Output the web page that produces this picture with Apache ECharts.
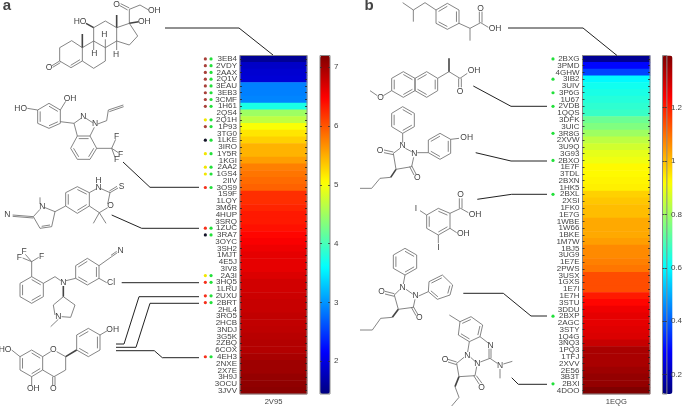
<!DOCTYPE html>
<html><head><meta charset="utf-8">
<style>html,body{margin:0;padding:0;background:#fff}#c{width:685px;height:410px}</style>
<script src="https://cdn.jsdelivr.net/npm/echarts@6/dist/echarts.min.js"></script>
</head><body><div id="c"></div>
<script>
const idsA=['3EB4','2VDY','2AAX','2Q1V','3EAU','3EB3','3CMF','1H61','2QS4','2Q1H','1P93','3TG0','1LKE','3IRO','1Y5R','1KGI','2AA2','1GS4','2IIV','3OS9','1S9F','1LQY','3M6R','4HUP','3SRQ','1ZUC','3RA7','3OYC','3SH2','1MJT','4E5J','3IV8','2A3I','3HQ5','1LRU','2UXU','2BRT','2HL4','3RO5','2HCB','3NDJ','3G5K','2ZBQ','6COX','4EH3','2NXE','2X7E','3H9J','3OCU','3JVV'];
const valuesA=[1.56,1.84,1.90,1.93,2.88,2.88,2.91,3.74,4.49,4.67,5.01,5.18,5.30,5.47,5.47,5.59,5.76,5.82,5.88,5.93,6.22,6.22,6.28,6.34,6.34,6.39,6.45,6.51,6.57,6.62,6.62,6.62,6.68,6.74,6.74,6.77,6.80,6.80,6.83,6.83,6.85,6.88,6.91,6.91,6.97,7.03,7.03,7.08,7.11,7.14];
const idsB=['2BXG','3PMD','4GHW','3IB2','3UIV','3P6G','1U67','2VDB','1QQS','3DFK','3UIC','3R8G','2XVW','3U9Q','3G93','2BXO','1E7F','3TDL','2BXN','1HK5','2BXL','2XSI','1FK0','1E7G','1WBE','1W66','1BKE','1M7W','1BJ5','3UG9','1E7E','2PWS','3USX','1GXS','1E7I','1E7H','3STU','3DDU','2BXP','2AGC','3STY','1Q4G','3NQ3','1PQ3','1TFJ','2XVV','2E56','3B3T','2BXI','4DOO'];
const valuesB=[0.153,0.293,0.369,0.596,0.622,0.634,0.647,0.660,0.672,0.736,0.761,0.799,0.837,0.862,0.888,0.900,0.926,0.926,0.932,0.938,0.976,0.989,1.002,1.002,1.027,1.027,1.027,1.040,1.065,1.065,1.078,1.090,1.141,1.141,1.141,1.204,1.229,1.255,1.267,1.267,1.274,1.280,1.305,1.343,1.343,1.343,1.356,1.369,1.369,1.394];
const columnA=['2V95'], columnB=['1EQG'];
const ticksA=[2,3,4,5,6,7], ticksB=[0.2,0.4,0.6,0.8,1,1.2];
const rangeA=[1.44,7.2], rangeB=[0.128,1.394];
const brownA=['3EB4','2VDY','2AAX','2Q1V','3EAU','3EB3','3CMF','1H61','1P93'];
const yellowA=['2Q1H','1Y5R','2AA2','1GS4','2A3I'];
const blackA=['1LKE','3RA7'];
const redA=['3OS9','1ZUC','3HQ5','2UXU','2BRT','4EH3'];
const greenA=['3EB4','2VDY','2AAX','2Q1V','3EAU','3EB3','3CMF','1H61','2Q1H','1P93','1LKE','1Y5R','2AA2','1GS4','3OS9','1ZUC','3RA7','2A3I','3HQ5','2UXU','2BRT','4EH3'];
const greenB=['2BXG','3IB2','3P6G','2VDB','3R8G','2BXO','2BXL','2BXP','2BXI'];
const jet=['#000080','#0000ff','#0080ff','#00ffff','#80ff80','#ffff00','#ff8000','#ff0000','#800000'];

const TOP=55.5,H=338.5,TXT='#444',FRAME='#8a8a8a',FONT='"Liberation Sans",Arial,sans-serif';
const grids=[],xAxes=[],yAxes=[],series=[];
function ax(o){return Object.assign({axisLine:{show:false},axisTick:{show:false},axisLabel:{show:false},splitLine:{show:false}},o);}
function panel(ids,vals,col,left,width,dotLeft,dotW,dotSets,cbLeft,ticks,range){
  // heatmap
  let g=grids.length;
  grids.push({left,top:TOP,width,height:H,show:true,borderColor:FRAME,borderWidth:1,backgroundColor:'transparent',z:3});
  xAxes.push(ax({type:'category',gridIndex:g,data:col,position:'bottom',
    axisLabel:{show:true,color:TXT,fontSize:7.6,fontFamily:FONT,margin:4}}));
  let cat=(position,label)=>ax({type:'category',gridIndex:g,data:ids,inverse:true,position,z:5,
    axisTick:{show:true,inside:true,length:2,alignWithLabel:true,lineStyle:{color:'#222',width:.8}},
    axisLabel:{show:label,interval:0,color:TXT,fontSize:8,fontFamily:FONT,margin:3}});
  let y0=yAxes.length;
  yAxes.push(cat('left',true),cat('right',false));
  series.push({type:'heatmap',xAxisIndex:xAxes.length-1,yAxisIndex:y0,progressive:0,
    data:ids.map((id,i)=>[0,i,vals[i]]),itemStyle:{borderWidth:0},silent:true});
  let hm=series.length-1;
  // annotation dots
  g=grids.length;
  grids.push({left:dotLeft,top:TOP,width:dotW,height:H});
  xAxes.push(ax({type:'category',gridIndex:g,data:dotSets.cols,show:false}));
  yAxes.push(ax({type:'category',gridIndex:g,data:ids,inverse:true,show:false}));
  dotSets.sets.forEach(s=>series.push({type:'scatter',xAxisIndex:xAxes.length-1,yAxisIndex:yAxes.length-1,
    symbolSize:3.2,silent:true,itemStyle:{color:s.color,opacity:1},data:s.list.map(id=>[s.col,id])}));
  // colour bar frame and ticks
  g=grids.length;
  grids.push({left:cbLeft,top:TOP,width:10,height:H,show:true,borderColor:FRAME,borderWidth:1,backgroundColor:'transparent',z:10});
  xAxes.push(ax({type:'category',gridIndex:g,data:[''],show:false}));
  let val=(position,label)=>ax({type:'value',gridIndex:g,min:range[0],max:range[1],position,z:12,
    axisTick:{show:true,inside:true,length:2,customValues:ticks,lineStyle:{color:'#333',width:.8}},
    axisLabel:{show:label,customValues:ticks,showMinLabel:true,showMaxLabel:true,color:TXT,fontSize:8,fontFamily:FONT,margin:4}});
  yAxes.push(val('left',false),val('right',true));
  return {type:'continuous',seriesIndex:hm,min:range[0],max:range[1],dimension:2,calculable:false,
    left:cbLeft,top:TOP,itemWidth:10,itemHeight:H,padding:0,text:null,showLabel:false,z:4,
    textStyle:{color:'transparent',fontSize:1},inRange:{color:jet},hoverLink:false};
}
const vmA=panel(idsA,valuesA,columnA,240,67,202.5,11.4,{cols:['m','n'],sets:[
  {list:brownA,col:'m',color:'#a8413a'},{list:yellowA,col:'m',color:'#f2e600'},{list:blackA,col:'m',color:'#15152a'},
  {list:redA,col:'m',color:'#f5301c'},{list:greenA,col:'n',color:'#22e03a'}]},320,ticksA,rangeA);
const vmB=panel(idsB,valuesB,columnB,582.5,67.5,550,6,{cols:['n'],sets:[{list:greenB,col:'n',color:'#22e03a'}]},662.5,ticksB,rangeB);

// --- structure drawings (illustration only, not data) ---
const gfx=[];
const BOND={stroke:'#666',lineWidth:.8,fill:null};
function line(pts,style){gfx.push({type:'polyline',silent:true,shape:{points:pts},style:Object.assign({},BOND,style||{}),z:20});}
function T(x,y,s,font){gfx.push({type:'text',silent:true,x,y,style:{text:s,fill:'#444',font:font||('8.5px '+FONT),textAlign:'center',textVerticalAlign:'middle'},z:21});}
function mol(ox,oy,def){
  const m=p=>[ox+p[0]/3,oy+p[1]/3];
  (def.bonds||[]).forEach(b=>line(b.map(m)));
  (def.bold||[]).forEach(b=>line(b.map(m),{lineWidth:1.6,stroke:'#444'}));
  (def.rings||[]).forEach(r=>{
    const pp=r.map(m);line(pp.concat([pp[0]]));
    const cx=pp.reduce((a,p)=>a+p[0],0)/pp.length,cy=pp.reduce((a,p)=>a+p[1],0)/pp.length;
    pp.forEach((p,i)=>{if(i%2==0){const q=pp[(i+1)%pp.length],f=.78;
      line([[cx+(p[0]-cx)*f,cy+(p[1]-cy)*f],[cx+(q[0]-cx)*f,cy+(q[1]-cy)*f]]);}});
  });
  (def.labels||[]).forEach(l=>{const p=m(l);T(p[0],p[1],l[2]);});
}
mol(0,0,{ // steroid
 bonds:[[[179,143],[215,122],[247,143],[247,183],[213,203],[179,183],[179,143]],[[212,196],[240,179]],
  [[247,183],[281,205],[316,183],[316,143],[281,123],[247,143]],[[281,123],[281,83],[316,63],[350,83],[350,123],[316,143]],
  [[350,83],[388,70],[413,108],[388,135],[350,123]],[[179,183],[156,197]],[[181,188],[158,202]],
  [[388,70],[388,28],[420,15],[446,30]],[[383,30],[358,16]],[[388,24],[362,11]],[[316,143],[316,118]],[[281,123],[281,150]],[[350,123],[350,150]]],
 bold:[[[247,143],[247,102]],[[350,83],[350,45]],[[281,83],[258,70]],[[388,70],[416,65]]],
 labels:[[147,202,'O'],[350,14,'O'],[463,33,'OH'],[240,64,'HO'],[433,65,'OH'],[313,103,'H'],[283,162,'H'],[348,163,'H']]});
mol(0,0,{ // indazole
 rings:[[[147,310],[181,330],[181,370],[147,385],[113,370],[113,330]],[[232,408],[270,408],[290,445],[270,478],[232,478],[212,445]]],
 bonds:[[[181,330],[197,304]],[[113,330],[82,325]],[[181,365],[222,370]],[[222,370],[243,355]],[[258,355],[278,368]],[[283,382],[270,408]],[[232,408],[222,370]],
  [[293,372],[320,362],[325,330],[370,315]],[[328,335],[371,320]],[[290,445],[335,445]],[[335,445],[347,418]],[[335,445],[355,458]],[[335,445],[345,472]]],
 labels:[[62,325,'HO'],[210,296,'OH'],[250,349,'N'],[285,372,'N'],[350,410,'F'],[362,463,'F'],[350,480,'F']]});
mol(0,0,{ // thiooxazine pyrrole
 rings:[[[232,560],[268,578],[268,618],[232,640],[197,618],[197,578]]],
 bonds:[[[268,578],[290,566]],[[303,566],[330,578],[323,612]],[[330,578],[354,564]],[[328,573],[351,559]],[[268,618],[298,638],[323,623]],[[298,638],[280,670]],[[298,638],[318,670]],
  [[197,618],[165,635],[133,622]],[[165,635],[155,680],[120,685],[100,650],[120,628]],[[120,612],[120,592]],[[150,675],[125,679]],[[100,650],[38,645]],[[100,654],[38,649]]],
 labels:[[296,563,'N'],[296,541,'H'],[365,560,'S'],[332,618,'O'],[127,620,'N'],[22,643,'N']]});
mol(0,200,{ // benzyl pyrrolidine
 rings:[[[95,230],[130,250],[130,290],[95,310],[60,290],[60,250]],[[227,197],[262,175],[297,197],[297,235],[262,255],[227,235]]],
 bonds:[[[95,230],[95,185]],[[95,185],[76,163]],[[95,185],[116,172]],[[95,185],[68,174]],[[130,250],[165,230],[182,242]],[[198,242],[227,235]],
  [[297,197],[335,170],[352,158]],[[333,166],[350,154]],[[297,235],[320,248]],[[190,290],[225,315],[212,352],[185,350]],[[165,345],[160,315],[190,290]],[[175,358],[152,380]]],
 bold:[[[190,258],[190,290]]],
 labels:[[72,155,'F'],[125,170,'F'],[58,172,'F'],[190,247,'N'],[362,152,'N'],[333,249,'Cl'],[175,350,'N']]});
mol(0,200,{ // flavanone
 rings:[[[95,450],[128,470],[128,510],[95,530],[60,510],[60,470]],[[230,405],[265,385],[300,405],[300,450],[265,470],[230,450]]],
 bonds:[[[60,470],[35,450]],[[95,530],[95,555]],[[128,470],[152,455]],[[170,455],[197,470],[197,510],[162,530],[128,510]],[[158,530],[158,555]],[[165,530],[165,555]],[[300,405],[322,392]]],
 bold:[[[197,470],[230,450]]],
 labels:[[15,449,'HO'],[100,567,'OH'],[160,567,'O'],[160,450,'O'],[338,390,'OH']]});
mol(360,0,{ // ibuprofen
 rings:[[[228,30],[262,10],[297,30],[297,70],[262,88],[228,70]]],
 bonds:[[[128,8],[160,30],[195,8],[228,30]],[[160,30],[160,65]],[[297,70],[330,85],[362,68],[385,82]],[[358,68],[358,35]],[[366,68],[366,35]],[[330,85],[330,122]]],
 labels:[[362,25,'O'],[405,87,'OH']]});
mol(360,0,{ // naproxen
 rings:[[[165,235],[200,215],[233,235],[233,272],[200,292],[165,272]],[[165,235],[130,215],[95,235],[95,272],[130,292],[165,272]]],
 bonds:[[[95,272],[70,287]],[[52,287],[30,272]],[[233,235],[267,215],[300,235],[322,220]],[[296,235],[296,262]],[[304,235],[304,262]]],
 bold:[[[267,215],[267,175]]],
 labels:[[62,292,'O'],[342,213,'OH'],[300,274,'O']]});
mol(360,0,{ // oxyphenbutazone
 rings:[[[128,320],[163,340],[163,380],[128,400],[95,380],[95,340]],[[205,420],[240,400],[272,418],[272,460],[240,478],[205,458]]],
 bonds:[[[128,400],[128,428]],[[120,445],[100,460],[108,508],[155,500],[161,472]],[[136,445],[155,455]],[[100,456],[72,450]],[[100,464],[72,458]],[[155,497],[168,522]],[[149,500],[162,525]],
  [[172,458],[205,458]],[[272,418],[297,415]],[[92,532],[60,535],[35,565],[0,565]]],
 bold:[[[108,508],[92,532]]],
 labels:[[128,438,'N'],[163,460,'N'],[60,452,'O'],[172,532,'O'],[320,414,'OH']]});
mol(360,200,{ // diiodosalicylic acid
 rings:[[[235,25],[270,40],[270,85],[235,105],[200,85],[200,45]]],
 bonds:[[[270,40],[302,25],[325,38]],[[298,25],[298,-5]],[[306,25],[306,-5]],[[200,45],[180,32]],[[235,105],[235,130]],[[270,85],[290,98]]],
 labels:[[302,-16,'O'],[345,43,'OH'],[168,25,'I'],[235,142,'I'],[310,102,'OH']]});
mol(360,200,{ // phenylbutazone
 rings:[[[135,145],[170,165],[170,205],[135,225],[100,205],[100,165]],[[207,245],[247,225],[278,255],[270,285],[232,298],[205,275]]],
 bonds:[[[135,225],[130,252]],[[120,268],[103,285],[115,328],[160,322],[165,298]],[[138,268],[158,282]],[[103,281],[75,274]],[[103,289],[75,282]],[[160,320],[174,344]],[[154,322],[168,347]],
  [[176,288],[205,275]],[[97,352],[62,355],[37,390],[0,390]]],
 bold:[[[115,328],[97,352]]],
 labels:[[128,262,'N'],[167,288,'N'],[65,275,'O'],[178,353,'O']]});
mol(360,200,{ // azapropazone
 rings:[[[300,365],[333,350],[368,375],[360,410],[328,425],[295,405]]],
 bonds:[[[268,345],[300,365]],[[328,425],[323,456]],[[360,410],[386,430]],[[387,446],[387,475]],[[393,446],[393,475]],[[390,475],[361,486]],[[390,475],[412,490]],[[430,492],[457,484]],[[420,507],[420,535]],
  [[332,472],[345,484]],[[350,500],[345,527],[297,530],[290,490],[312,472]],[[290,486],[264,478]],[[290,494],[264,486]],[[341,527],[358,553]],[[349,527],[366,550]],[[285,560],[297,592],[275,618]]],
 bold:[[[297,530],[285,560]]],
 labels:[[322,466,'N'],[352,490,'N'],[392,437,'N'],[420,497,'N'],[255,480,'O'],[365,562,'O']]});
// leader lines
const LEAD={stroke:'#222',lineWidth:1};
[[[165,28],[239,28],[273,55]],
 [[123,162],[150,187.3],[199,187.3]],
 [[111.7,215],[141.7,228.3],[199,228.3]],
 [[121.7,282.7],[199,282.7]],
 [[116,344],[124,344],[139,296.7],[199,296.7]],
 [[116,347.3],[136,347.3],[150,303.3],[199,303.3]],
 [[116,350.7],[154.3,350.7],[162.3,357.7],[199,357.7]],
 [[508,28],[583,28],[617,55.5]],
 [[473.3,86],[511,106.3],[547,106.3]],
 [[475.7,152.7],[511,161],[547,161]],
 [[477.3,199.3],[511.7,194.3],[547,194.3]],
 [[463.3,293.3],[503.3,293.3],[531,316],[547,316]],
 [[511.7,377.7],[518.3,384.3],[547,384.3]]].forEach(p=>line(p,LEAD));
T(7,6,'a','bold 15px '+FONT);
T(369,6,'b','bold 15px '+FONT);

const chart=echarts.init(document.getElementById('c'),null,{renderer:'canvas'});
chart.setOption({animation:false,backgroundColor:'#fff',tooltip:{show:false},
  grid:grids,xAxis:xAxes,yAxis:yAxes,series,visualMap:[vmA,vmB],graphic:{elements:gfx}});
</script></body></html>
